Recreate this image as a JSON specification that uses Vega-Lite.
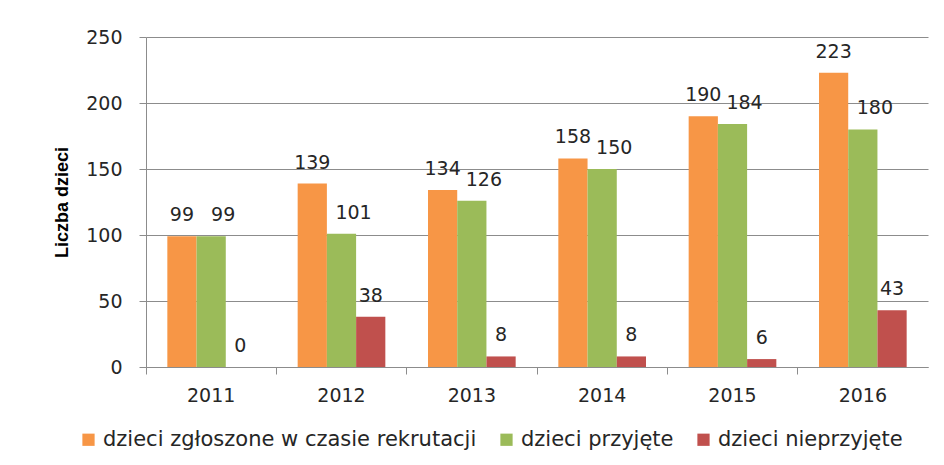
{
  "$schema": "https://vega.github.io/schema/vega-lite/v6.json",
  "autosize": "none",
  "width": 782,
  "height": 330,
  "padding": {"left": 146, "top": 37, "right": 16, "bottom": 98},
  "background": "white",
  "config": {
    "font": "DejaVu Sans",
    "view": {"stroke": null},
    "axis": {"labelFont": "DejaVu Sans", "labelFontSize": 19, "labelColor": "#262626"}
  },
  "data": {
    "values": [
      {"rok": "2011", "seria": "dzieci zgłoszone w czasie rekrutacji", "wartosc": 99},
      {"rok": "2011", "seria": "dzieci przyjęte", "wartosc": 99},
      {"rok": "2011", "seria": "dzieci nieprzyjęte", "wartosc": 0},
      {"rok": "2012", "seria": "dzieci zgłoszone w czasie rekrutacji", "wartosc": 139},
      {"rok": "2012", "seria": "dzieci przyjęte", "wartosc": 101},
      {"rok": "2012", "seria": "dzieci nieprzyjęte", "wartosc": 38},
      {"rok": "2013", "seria": "dzieci zgłoszone w czasie rekrutacji", "wartosc": 134},
      {"rok": "2013", "seria": "dzieci przyjęte", "wartosc": 126},
      {"rok": "2013", "seria": "dzieci nieprzyjęte", "wartosc": 8},
      {"rok": "2014", "seria": "dzieci zgłoszone w czasie rekrutacji", "wartosc": 158},
      {"rok": "2014", "seria": "dzieci przyjęte", "wartosc": 150},
      {"rok": "2014", "seria": "dzieci nieprzyjęte", "wartosc": 8},
      {"rok": "2015", "seria": "dzieci zgłoszone w czasie rekrutacji", "wartosc": 190},
      {"rok": "2015", "seria": "dzieci przyjęte", "wartosc": 184},
      {"rok": "2015", "seria": "dzieci nieprzyjęte", "wartosc": 6},
      {"rok": "2016", "seria": "dzieci zgłoszone w czasie rekrutacji", "wartosc": 223},
      {"rok": "2016", "seria": "dzieci przyjęte", "wartosc": 180},
      {"rok": "2016", "seria": "dzieci nieprzyjęte", "wartosc": 43}
    ]
  },
  "encoding": {
    "x": {
      "field": "rok", "type": "nominal",
      "scale": {"paddingInner": 0, "paddingOuter": 0},
      "axis": {
        "title": null, "labelAngle": 0, "bandPosition": 0,
        "labelPadding": 12, "tickSize": 7, "tickColor": "#8c8c8c",
        "domainColor": "#8c8c8c", "grid": false, "labelAlign": "center"
      }
    },
    "xOffset": {
      "field": "seria", "type": "nominal",
      "sort": ["dzieci zgłoszone w czasie rekrutacji", "dzieci przyjęte", "dzieci nieprzyjęte"],
      "scale": {"paddingInner": 0, "paddingOuter": 0.73}
    },
    "y": {
      "field": "wartosc", "type": "quantitative",
      "scale": {"domain": [0, 250], "nice": false},
      "axis": {
        "title": "Liczba dzieci", "titleFont": "Liberation Sans", "titleFontSize": 18,
        "titleFontWeight": "bold", "titleColor": "#000000", "titlePadding": 14,
        "values": [0, 50, 100, 150, 200, 250],
        "tickSize": 7, "tickColor": "#8c8c8c", "labelPadding": 17,
        "domainColor": "#8c8c8c", "gridColor": "#8c8c8c", "gridWidth": 1, "gridOpacity": 1
      }
    }
  },
  "layer": [
    {
      "mark": {"type": "bar"},
      "encoding": {
        "color": {
          "field": "seria", "type": "nominal",
          "sort": ["dzieci zgłoszone w czasie rekrutacji", "dzieci przyjęte", "dzieci nieprzyjęte"],
          "scale": {"range": ["#F79646", "#9BBB59", "#C0504D"]},
          "legend": {
            "title": null, "orient": "none", "direction": "horizontal",
            "legendX": -68, "legendY": 392,
            "symbolType": "square", "symbolSize": 150, "symbolStrokeWidth": 0,
            "labelFont": "DejaVu Sans", "labelFontSize": 21, "labelColor": "#262626",
            "labelOffset": 4, "columnPadding": 19, "labelLimit": 0
          }
        }
      }
    },
    {
      "transform": [{"filter": "datum.seria === 'dzieci zgłoszone w czasie rekrutacji'"}],
      "mark": {"type": "text", "baseline": "middle", "dy": -21, "fontSize": 19, "color": "#262626", "font": "DejaVu Sans"},
      "encoding": {"text": {"field": "wartosc", "type": "quantitative"}}
    },
    {
      "transform": [{"filter": "datum.seria === 'dzieci przyjęte'"}],
      "mark": {"type": "text", "baseline": "middle", "dy": -21, "dx": 12, "fontSize": 19, "color": "#262626", "font": "DejaVu Sans"},
      "encoding": {"text": {"field": "wartosc", "type": "quantitative"}}
    },
    {
      "transform": [{"filter": "datum.seria === 'dzieci nieprzyjęte'"}],
      "mark": {"type": "text", "baseline": "middle", "dy": -21, "fontSize": 19, "color": "#262626", "font": "DejaVu Sans"},
      "encoding": {"text": {"field": "wartosc", "type": "quantitative"}}
    }
  ]
}
